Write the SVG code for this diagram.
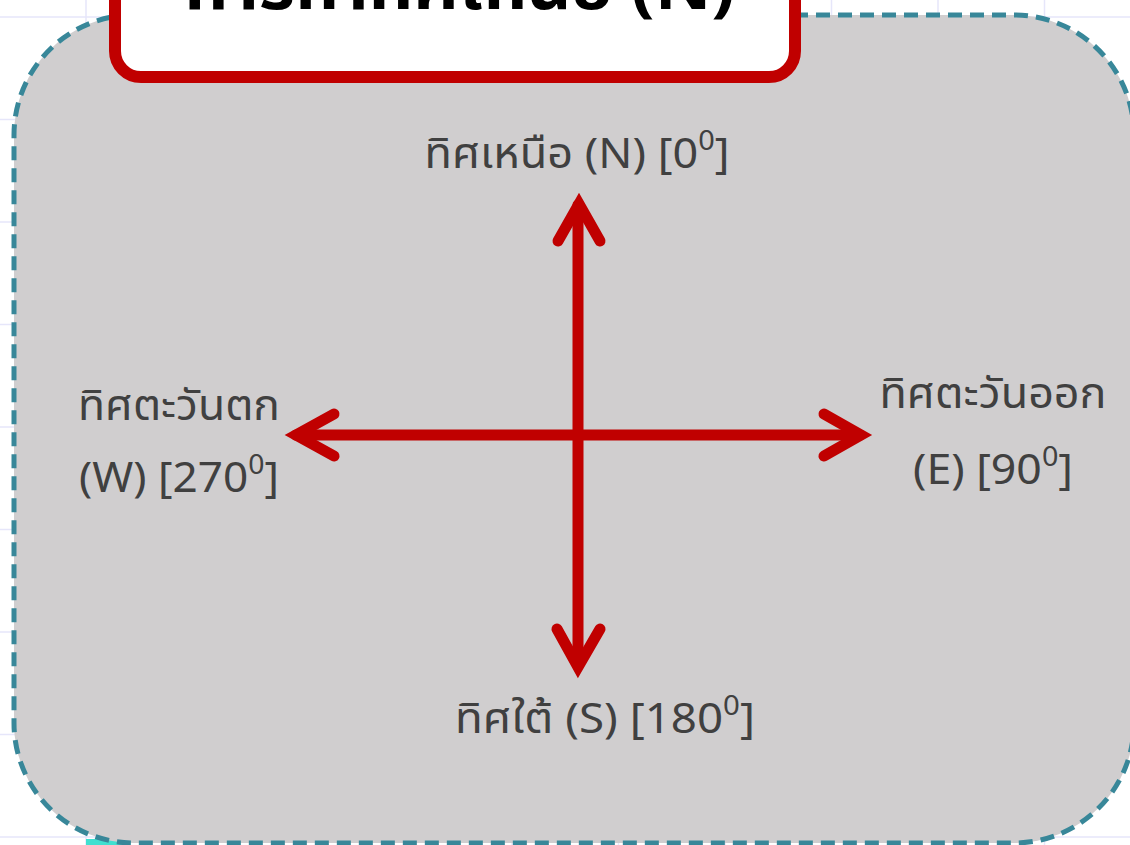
<svg xmlns="http://www.w3.org/2000/svg" width="1130" height="845" viewBox="0 0 1130 845">
<style>
.grid{stroke:#E6E6FA;stroke-width:1.5}
.lbl{font-family:"Noto Sans","Noto Sans Thai","DejaVu Sans",sans-serif;font-size:42px;fill:#404040;text-anchor:middle}
.arr{stroke:#C00000;stroke-width:11;fill:none;stroke-linecap:round;stroke-linejoin:miter}
</style>
<rect width="1130" height="845" fill="#FFFFFF"/>
<g id="grid">
<path class="grid" d="M0 17H1130M0 119.5H1130M0 222H1130M0 324.5H1130M0 427H1130M0 529.5H1130M0 632H1130M0 734.5H1130M0 837H1130M86 0V845M192.5 0V845M299 0V845M405.5 0V845M512 0V845M618.5 0V845M725 0V845M831.5 0V845M938 0V845M1044.5 0V845"/>
</g>
<rect x="86" y="839" width="36" height="6" fill="#40E0D0"/>
<g id="frame">
<rect x="14" y="15" width="1120" height="828" rx="120" ry="120" fill="#D0CECF" stroke="#388799" stroke-width="5" stroke-dasharray="14 8"/>
</g>
<g id="title">
<rect x="115" y="-60" width="680" height="137" rx="26" ry="26" fill="#FFFFFF" stroke="#C00000" stroke-width="12"/>
<text x="460" y="9" font-family="Noto Sans,'Noto Sans Thai','DejaVu Sans',sans-serif" font-size="64" font-weight="bold" fill="#000000" text-anchor="middle" textLength="550" lengthAdjust="spacingAndGlyphs">การหาทิศเหนือ (N)</text>
</g>
<g id="connectors">
<line class="arr" x1="578" y1="205" x2="578" y2="665"/>
<line class="arr" x1="296" y1="435" x2="860" y2="435"/>
<polyline class="arr" points="558,241 579,204 600,241"/>
<polyline class="arr" points="557,629 578,667 600,629"/>
<polyline class="arr" points="334,414 296,435 334,456"/>
<polyline class="arr" points="824,414 861,435 824,456"/>
</g>
<g id="north">
<text class="lbl" x="577" y="168" textLength="305" lengthAdjust="spacingAndGlyphs">ทิศเหนือ (N) [0<tspan font-size="27" dy="-18">0</tspan><tspan dy="18">]</tspan></text>
</g>
<g id="west">
<text class="lbl" x="179" y="420" textLength="202" lengthAdjust="spacingAndGlyphs">ทิศตะวันตก</text>
<text class="lbl" x="179" y="492" textLength="200" lengthAdjust="spacingAndGlyphs">(W) [270<tspan font-size="27" dy="-18">0</tspan><tspan dy="18">]</tspan></text>
</g>
<g id="east">
<text class="lbl" x="993" y="408" textLength="227" lengthAdjust="spacingAndGlyphs">ทิศตะวันออก</text>
<text class="lbl" x="993" y="484" textLength="160" lengthAdjust="spacingAndGlyphs">(E) [90<tspan font-size="27" dy="-18">0</tspan><tspan dy="18">]</tspan></text>
</g>
<g id="south">
<text class="lbl" x="605" y="733" textLength="300" lengthAdjust="spacingAndGlyphs">ทิศใต้ (S) [180<tspan font-size="27" dy="-18">0</tspan><tspan dy="18">]</tspan></text>
</g>
</svg>
